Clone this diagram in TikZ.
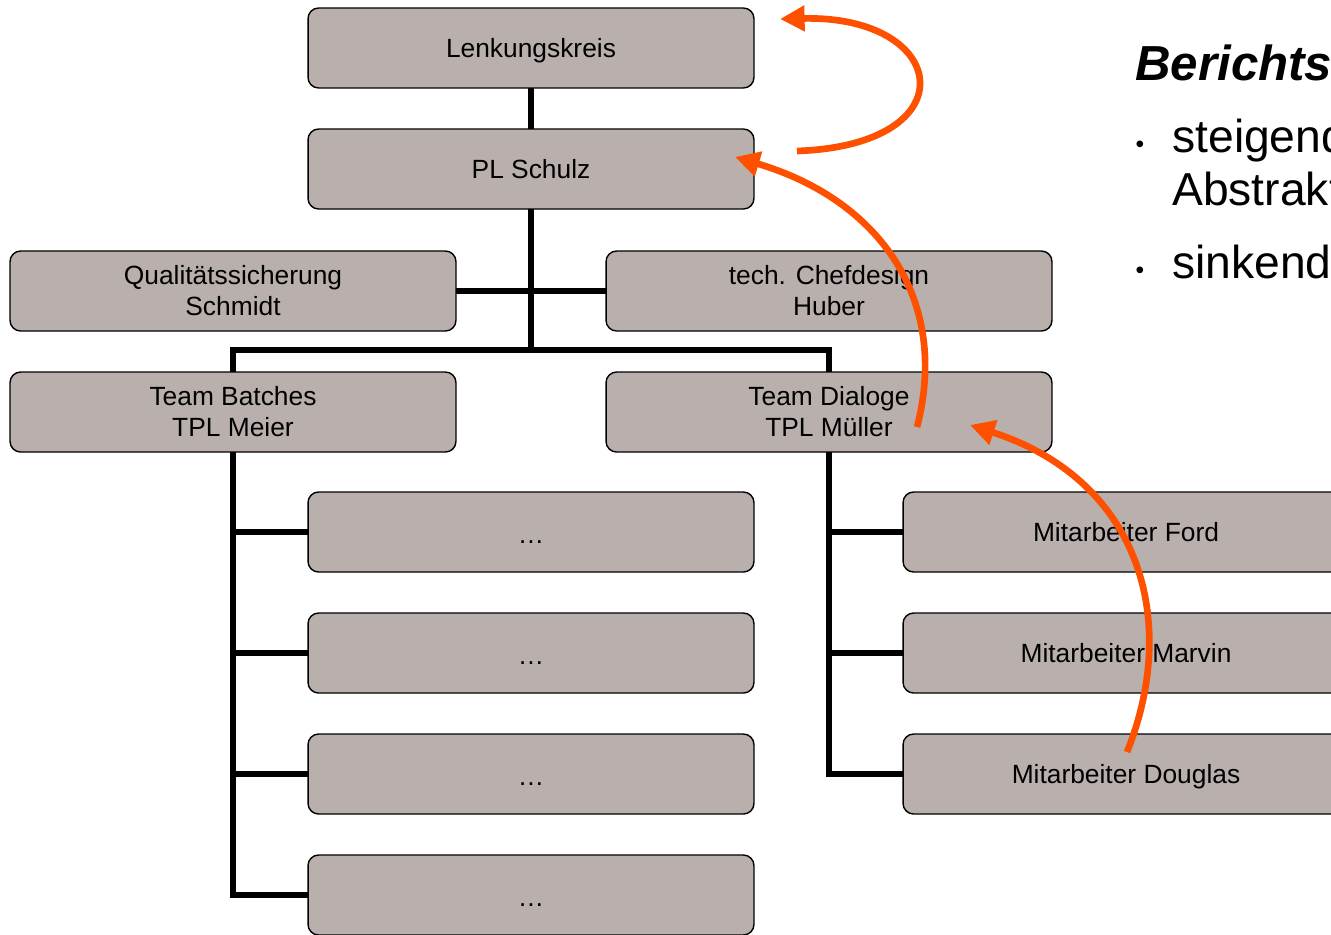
\documentclass[tikz,border=0pt]{standalone}
\usepackage{fontspec}
\setmainfont{Liberation Sans}
\usetikzlibrary{arrows.meta,positioning,calc}
\definecolor{boxfill}{HTML}{B9B0AD}
\definecolor{report}{HTML}{FF5000}

\begin{document}
\begin{tikzpicture}[x=0.02cm,y=-0.02cm,
  box/.style={draw=black,line width=0.8pt,fill=boxfill,rounded corners=6pt,minimum width=8.92cm,minimum height=1.6cm,inner sep=0pt,outer sep=0pt,align=center,font=\fontsize{15}{17.6}\selectfont},
  single/.style={box,text height=12pt,text depth=1.2pt},
  link/.style={line width=3pt},
  flow/.style={draw=report,line width=3.8pt,-{Triangle[length=14pt,width=14pt]}},
  item/.style={anchor=base west,inner sep=0pt,font=\fontsize{26.3}{30}\selectfont},
  dot/.style={anchor=base,inner sep=0pt,font=\fontsize{14}{16}\selectfont}]
\useasboundingbox (0,0) rectangle (1331,934);
\clip (0,0) rectangle (1331,934);
% organisation
\node[single] (lenk) at (531,48) {Lenkungskreis};
\node[single] (pl) at (531,169) {PL Schulz};
\node[box] (qs) at (233,291) {Qualitätssicherung\\Schmidt};
\node[box] (chef) at (829,291) {tech. Chefdesign\\Huber};
\node[box] (batches) at (233,412) {Team Batches\\TPL Meier};
\node[box] (dialoge) at (829,412) {Team Dialoge\\TPL Müller};
\foreach \i/\y in {1/532,2/653,3/774,4/895}
  \node[box] (dots\i) at (531,\y) {\raisebox{-6.5pt}[0pt][0pt]{…}};
\node[single] (ford) at (1126,532) {Mitarbeiter Ford};
\node[single] (marvin) at (1126,653) {Mitarbeiter Marvin};
\node[single] (douglas) at (1126,774) {Mitarbeiter Douglas};
\coordinate (split) at (531,350);
\draw[link] (lenk) -- (pl);
\draw[link] (pl) -- (split);
\draw[link] (qs) -- (chef);
\draw[link] (batches.north) |- (split) -| (dialoge.north);
\foreach \i in {1,...,4}
  \draw[link] (batches.south) |- (dots\i.west);
\foreach \n in {ford,marvin,douglas}
  \draw[link] (dialoge.south) |- (\n.west);
% reporting path
\coordinate (up1) at (797,151);
\coordinate (up1end) at (780,19);
\coordinate (up2) at (917,427);
\coordinate (up2end) at (735,157);
\coordinate (up3) at (1127,752);
\coordinate (up3end) at (970,425);
\draw[flow] (up1) .. controls (970,145) and (950,15) .. (up1end);
\draw[flow] (up2) .. controls (950,300) and (880,200) .. (up2end);
\draw[flow] (up3) .. controls (1180,620) and (1140,480) .. (up3end);
% side text
\node[anchor=base west,inner sep=0pt,font=\fontsize{28}{32}\selectfont\bfseries\itshape] (title) at (1135,80) {Berichts};
\node[dot] (b1) at (1140,152) {•};
\node[item] (rise) at (1172,152) {steigend};
\node[item] (rise2) at (1172,205) {Abstrakt};
\node[dot] (b2) at (1140,278) {•};
\node[item] (sink) at (1172,278) {sinkend};
\end{tikzpicture}
\end{document}
